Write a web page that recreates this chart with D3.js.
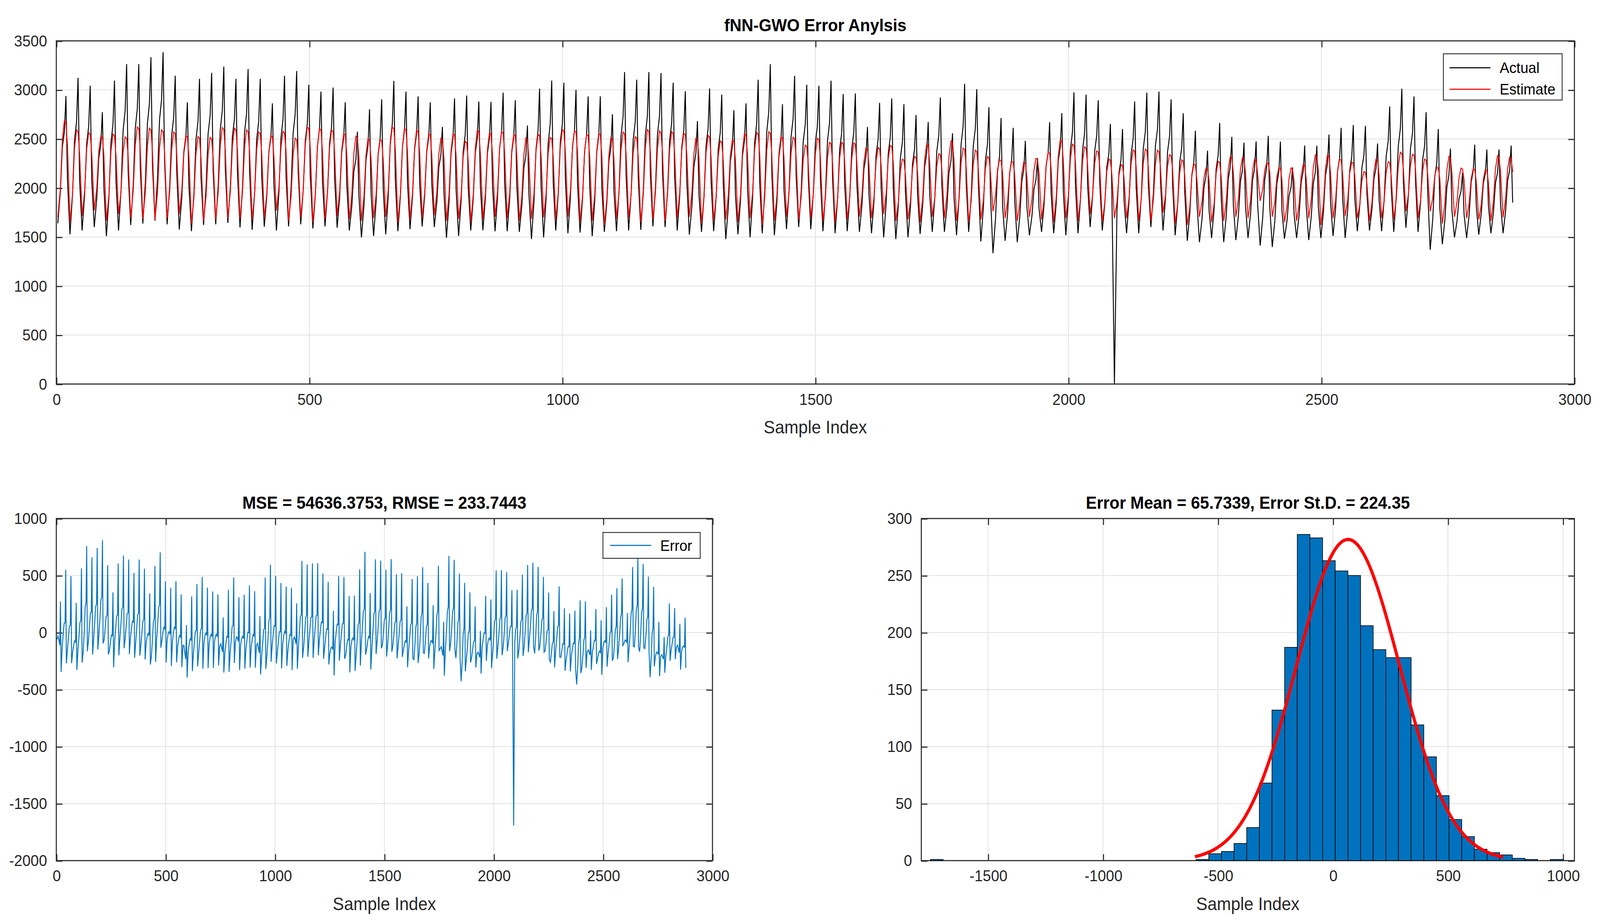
<!DOCTYPE html>
<html>
<head>
<meta charset="utf-8">
<script src="https://cdn.jsdelivr.net/npm/d3@7"></script>
<style>
html, body { margin: 0; padding: 0; background: #fff; overflow: hidden; }
svg { display: block; width: 100vw; height: 100vh; }
text { font-family: "Liberation Sans", Arial, sans-serif; }
</style>
</head>
<body>
<script>

// daily peaks / troughs (24 samples per day, 120 days)
var actualPeak = [2938,3123,3043,2773,3095,3263,3263,3333,3384,3144,2873,3113,3174,3238,3113,3213,3113,2863,3144,3193,3053,2983,3024,2874,2574,2803,2903,3092,2983,2934,2873,2623,2913,2943,2882,2878,2972,2894,2637,3014,3095,3073,
  3001,2934,2934,2752,3182,3104,3182,3172,3073,2987,2682,3015,2952,2793,2863,3104,3263,2854,3144,3053,3043,3094,2958,2964,2622,2868,2913,2854,2744,2672,2923,2558,3063,3008,2824,2713,2614,2482,2304,2672,2763,2975,2952,
  2894,2653,2602,2882,2973,2983,2903,2762,2584,2381,2663,2521,2462,2474,2532,2472,2210,2432,2430,2544,2614,2642,2633,2453,2832,3013,2934,2773,2602,2402,2154,2441,2392,2392,2432];
var actualTrough = [1640,1527,1566,1601,1508,1566,1622,1636,1667,1629,1576,1559,1622,1629,1643,1597,1573,1605,1566,1608,1629,1587,1608,1594,1566,1496,1510,1527,1559,1580,1608,1601,1491,1510,1566,1569,1558,1559,1552,1478,1496,1566,
  1538,1545,1508,1552,1559,1566,1573,1608,1601,1566,1524,1552,1559,1478,1527,1496,1538,1517,1580,1601,1580,1559,1538,1559,1552,1538,1496,1478,1496,1531,1552,1552,1517,1552,1454,1335,1461,1447,1517,1552,1538,1517,1538,
  1601,1566,1483,1538,1538,1601,1566,1517,1461,1447,1489,1447,1468,1489,1412,1398,1482,1489,1468,1489,1510,1489,1559,1566,1559,1552,1594,1552,1370,1426,1496,1489,1524,1538,1538];
var estPeak = [2686,2591,2565,2528,2549,2521,2622,2609,2592,2571,2537,2525,2516,2616,2609,2591,2571,2537,2577,2507,2622,2609,2592,2556,2525,2502,2495,2622,2609,2592,2556,2507,2556,2476,2591,2565,2577,2549,2510,2549,2516,2595,
  2584,2549,2560,2514,2571,2524,2595,2581,2574,2560,2507,2537,2481,2491,2558,2567,2574,2525,2518,2437,2507,2465,2465,2460,2406,2413,2434,2294,2322,2448,2350,2479,2406,2385,2320,2288,2273,2266,2301,2364,2490,2446,2420,
  2378,2294,2238,2388,2395,2385,2339,2287,2245,2203,2271,2322,2308,2294,2257,2210,2203,2238,2336,2336,2294,2264,2168,2294,2269,2364,2343,2294,2210,2322,2203,2196,2189,2329,2315];
var estTrough = [1700,1650,1713,1770,1664,1734,1692,1685,1678,1692,1734,1636,1664,1678,1692,1685,1678,1692,1770,1664,1700,1650,1685,1713,1678,1664,1692,1706,1650,1678,1692,1720,1664,1685,1650,1678,1706,1692,1664,1685,1700,1678,
  1706,1650,1664,1622,1685,1692,1650,1678,1664,1692,1706,1636,1664,1678,1650,1692,1622,1664,1706,1678,1692,1664,1650,1678,1706,1692,1734,1664,1678,1650,1706,1692,1664,1650,1678,1762,1692,1664,1706,1678,1650,1692,1664,
  1734,1657,1692,1692,1664,1664,1749,1636,1622,1706,1650,1664,1706,1692,1867,1706,1650,1664,1692,1622,1692,1713,1692,1664,1692,1678,1762,1692,1762,1636,1706,1692,1678,1664,1700];
// typical within-day profile (hour of day, fraction between trough and peak)
var dayHours = [3, 8, 12, 16, 19, 22];
var actualShape = [0, 0.25, 0.6, 0.72, 1, 0.35];
var estShape = [0, 0.3, 0.8, 1, 0.98, 0.75];
var dropIndex = 2091, dropValue = 0;   // the single zero reading

// histogram of the error (bin width 55, first edge -1750)
var binStart = -1750, binWidth = 55;
var binCounts = [1,0,0,0,0,0,0,0,0,0,0,0,0,0,0,0,0,0,0,0,0,
  1,6,8,15,29,68,132,187,286,283,263,254,250,206,185,178,178,119,91,57,36,21,10,7,5,2,1,0,1];
var errMean = 65.7339, errStd = 224.35, nSamples = 2880;

var actual = [], estimate = [], errors = [];
for (var d = 0; d < actualPeak.length; d++) {
  dayHours.forEach(function(h, k) {
    var i = d * 24 + h;
    var a = actualTrough[d] + actualShape[k] * (actualPeak[d] - actualTrough[d]);
    var e = estTrough[d] + estShape[k] * (estPeak[d] - estTrough[d]);
    if (i === dropIndex) a = dropValue;
    actual.push([i, a]); estimate.push([i, e]); errors.push([i, a - e]);
  });
}

var W = 1563, H = 858;
var svg = d3.select("body").append("svg")
  .attr("viewBox", "0 0 " + W + " " + H)
  .attr("preserveAspectRatio", "none");

var fmt = function(v) { return String(v); };

function panel(x0, x1, y0, y1, xs, ys, xticks, yticks, title) {
  var g = svg.append("g");
  g.selectAll("line.gx").data(xticks).enter().append("line")
    .attr("x1", xs).attr("x2", xs).attr("y1", y0).attr("y2", y1)
    .attr("stroke", "#e3e3e3").attr("stroke-width", 0.8);
  g.selectAll("line.gy").data(yticks).enter().append("line")
    .attr("x1", x0).attr("x2", x1).attr("y1", ys).attr("y2", ys)
    .attr("stroke", "#e3e3e3").attr("stroke-width", 0.8);
  var ax = svg.append("g");
  ax.append("g").attr("transform", "translate(0," + y1 + ")")
    .call(d3.axisBottom(xs).tickValues(xticks).tickSizeInner(-6).tickSizeOuter(0).tickPadding(9).tickFormat(fmt));
  ax.append("g").attr("transform", "translate(0," + y0 + ")")
    .call(d3.axisTop(xs).tickValues(xticks).tickSizeInner(-6).tickSizeOuter(0).tickFormat(""));
  ax.append("g").attr("transform", "translate(" + x0 + ",0)")
    .call(d3.axisLeft(ys).tickValues(yticks).tickSizeInner(-6).tickSizeOuter(0).tickPadding(9).tickFormat(fmt));
  ax.append("g").attr("transform", "translate(" + x1 + ",0)")
    .call(d3.axisRight(ys).tickValues(yticks).tickSizeInner(-6).tickSizeOuter(0).tickFormat(""));
  ax.selectAll(".domain").remove();
  ax.selectAll("line").attr("stroke", "#262626");
  ax.selectAll("text").attr("font-size", 14.5).attr("fill", "#262626")
    .style("font-family", "'Liberation Sans', Arial, sans-serif");
  svg.append("rect").attr("x", x0).attr("y", y0).attr("width", x1 - x0).attr("height", y1 - y0)
    .attr("fill", "none").attr("stroke", "#262626").attr("stroke-width", 1);
  svg.append("text").attr("x", (x0 + x1) / 2).attr("y", y0 - 9).attr("text-anchor", "middle")
    .attr("font-size", 16).attr("font-weight", "bold").text(title);
  svg.append("text").attr("x", (x0 + x1) / 2).attr("y", y1 + 46).attr("text-anchor", "middle")
    .attr("font-size", 16.5).attr("fill", "#262626").text("Sample Index");
  return g;
}

// top panel
var x1s = d3.scaleLinear().domain([0, 3000]).range([55, 1538]);
var y1s = d3.scaleLinear().domain([0, 3500]).range([357, 38]);
panel(55, 1538, 38, 357, x1s, y1s, d3.range(0, 3001, 500), d3.range(0, 3501, 500), "fNN-GWO Error Anylsis");
var line1 = d3.line().x(function(p) { return x1s(p[0]); }).y(function(p) { return y1s(p[1]); });
svg.append("path").datum(actual).attr("d", line1).attr("fill", "none").attr("stroke", "#000").attr("stroke-width", 0.9);
svg.append("path").datum(estimate).attr("d", line1).attr("fill", "none").attr("stroke", "#ff0000").attr("stroke-width", 0.9);
var lg = svg.append("g");
lg.append("rect").attr("x", 1410).attr("y", 50).attr("width", 116).attr("height", 43)
  .attr("fill", "#fff").attr("stroke", "#262626").attr("stroke-width", 0.8);
[["Actual", "#000"], ["Estimate", "#ff0000"]].forEach(function(s, k) {
  var yy = 63 + k * 20;
  lg.append("line").attr("x1", 1416).attr("x2", 1456).attr("y1", yy).attr("y2", yy).attr("stroke", s[1]);
  lg.append("text").attr("x", 1465).attr("y", yy + 5).attr("font-size", 14).text(s[0]);
});

// bottom-left: error
var x2s = d3.scaleLinear().domain([0, 3000]).range([55, 696]);
var y2s = d3.scaleLinear().domain([-2000, 1000]).range([800, 482]);
panel(55, 696, 482, 800, x2s, y2s, d3.range(0, 3001, 500), d3.range(-2000, 1001, 500), "MSE = 54636.3753, RMSE = 233.7443");
var line2 = d3.line().x(function(p) { return x2s(p[0]); }).y(function(p) { return y2s(p[1]); });
svg.append("path").datum(errors).attr("d", line2).attr("fill", "none").attr("stroke", "#0072BD").attr("stroke-width", 0.9);
svg.append("rect").attr("x", 589).attr("y", 495).attr("width", 95).attr("height", 24)
  .attr("fill", "#fff").attr("stroke", "#262626").attr("stroke-width", 0.8);
svg.append("line").attr("x1", 596).attr("x2", 636).attr("y1", 507).attr("y2", 507).attr("stroke", "#0072BD");
svg.append("text").attr("x", 645).attr("y", 512).attr("font-size", 14).text("Error");

// bottom-right: histogram
var x3s = d3.scaleLinear().domain([-1790, 1050]).range([900, 1538]);
var y3s = d3.scaleLinear().domain([0, 300]).range([800, 482]);
panel(900, 1538, 482, 800, x3s, y3s, d3.range(-1500, 1001, 500), d3.range(0, 301, 50), "Error Mean = 65.7339, Error St.D. = 224.35");
var bars = svg.append("g");
binCounts.forEach(function(c, i) {
  if (c <= 0) return;
  var a = binStart + i * binWidth;
  bars.append("rect").attr("x", x3s(a)).attr("width", x3s(a + binWidth) - x3s(a))
    .attr("y", y3s(c)).attr("height", y3s(0) - y3s(c))
    .attr("fill", "#0072BD").attr("stroke", "#000").attr("stroke-width", 0.6);
});
var curve = d3.range(-600, 741, 10).map(function(v) {
  var z = (v - errMean) / errStd;
  return [v, nSamples * binWidth / (errStd * Math.sqrt(2 * Math.PI)) * Math.exp(-0.5 * z * z)];
});
svg.append("path").datum(curve)
  .attr("d", d3.line().x(function(p) { return x3s(p[0]); }).y(function(p) { return y3s(p[1]); }))
  .attr("fill", "none").attr("stroke", "#ff0000").attr("stroke-width", 3);
</script>
</body>
</html>
